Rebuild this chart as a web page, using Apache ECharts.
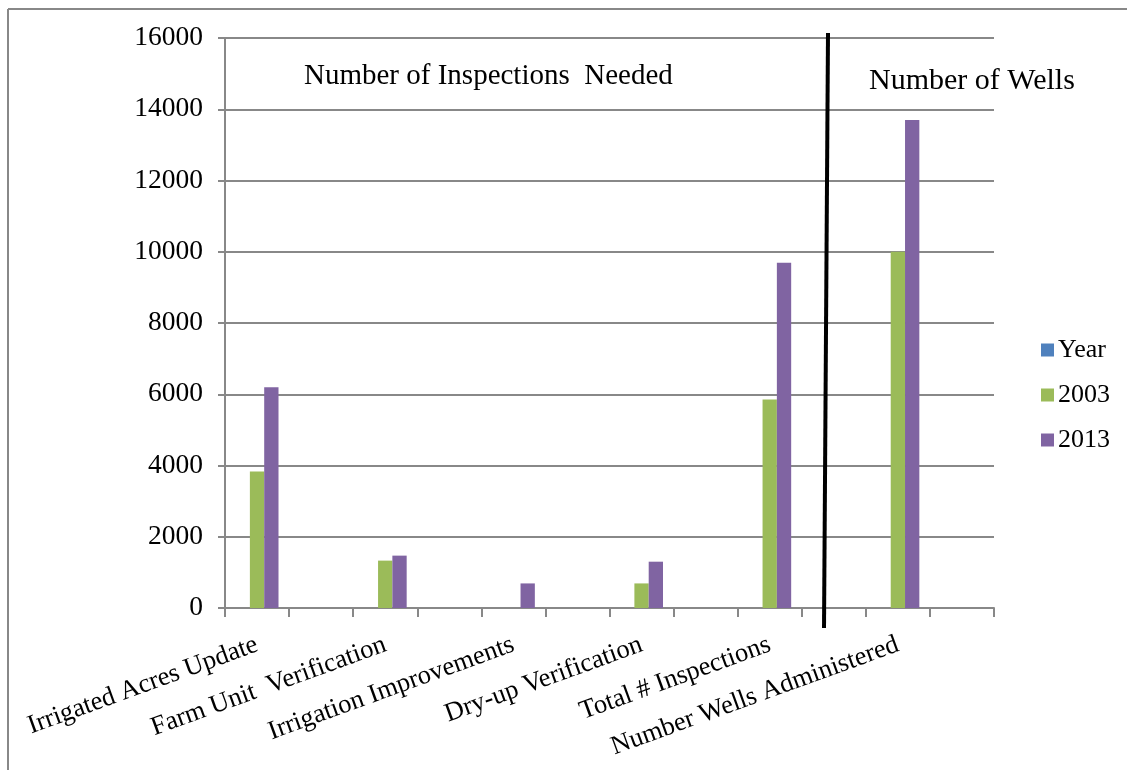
<!DOCTYPE html>
<html>
<head>
<meta charset="utf-8">
<script src="https://cdn.jsdelivr.net/npm/echarts@6/dist/echarts.min.js"></script>
<style>html,body{margin:0;padding:0;background:#fff;}#c{width:1127px;height:770px;}</style>
</head>
<body>
<div id="c"></div>
<script>
const categories = ["Irrigated Acres Update", "", "Farm Unit  Verification", "", "Irrigation Improvements", "", "Dry-up Verification", "", "Total # Inspections", "", "Number Wells Administered", ""];
const seriesNames = ["Year", "2003", "2013"];
const yearValues = [null, null, null, null, null, null, null, null, null, null, null, null];
const values2003 = [3830, null, 1330, null, null, null, 690, null, 5850, null, 10000, null];
const values2013 = [6200, null, 1470, null, 690, null, 1300, null, 9690, null, 13700, null];
const yTicks = [0, 2000, 4000, 6000, 8000, 10000, 12000, 14000, 16000];

const font = "'Liberation Serif', 'Times New Roman', serif";
const gray = '#888888';
const chart = echarts.init(document.getElementById('c'));
chart.setOption({
  animation: false,
  backgroundColor: '#fff',
  textStyle: { fontFamily: font, color: '#000' },
  grid: { left: 225, right: 133, top: 38, bottom: 162, containLabel: false },
  legend: {
    orient: 'vertical', left: 1036, top: 332,
    itemWidth: 13, itemHeight: 13, itemGap: 19,
    icon: 'rect',
    textStyle: { fontFamily: font, fontSize: 26, color: '#000', padding: [0, 0, 0, -1] },
    data: seriesNames
  },
  xAxis: {
    type: 'category', data: categories,
    axisLine: { lineStyle: { color: gray, width: 2 } },
    axisTick: { show: true, interval: 0, length: 9, lineStyle: { color: gray, width: 2 } },
    axisLabel: { interval: 1, rotate: 20, margin: 36, fontFamily: font, fontSize: 26.5, color: '#000', padding: [0, 0, 0, 0] }
  },
  yAxis: {
    type: 'value', min: yTicks[0], max: yTicks[yTicks.length - 1], interval: 2000,
    axisLine: { show: true, lineStyle: { color: gray, width: 2 } },
    axisTick: { show: true, length: 7, lineStyle: { color: gray, width: 2 } },
    splitLine: { lineStyle: { color: gray, width: 2 } },
    axisLabel: { margin: 22, fontFamily: font, fontSize: 27.5, color: '#000', formatter: function (v) { return String(v); } }
  },
  series: [
    { name: 'Year', type: 'bar', data: yearValues, barGap: '0%', barCategoryGap: '33%', itemStyle: { color: '#4F81BD' } },
    { name: '2003', type: 'bar', data: values2003, barGap: '0%', barCategoryGap: '33%', itemStyle: { color: '#9BBB59' } },
    { name: '2013', type: 'bar', data: values2013, barGap: '0%', barCategoryGap: '33%', itemStyle: { color: '#8064A2' } }
  ],
  graphic: [
    { type: 'line', shape: { x1: 8, y1: 9, x2: 1127, y2: 9 }, style: { stroke: gray, lineWidth: 2 } },
    { type: 'line', shape: { x1: 8, y1: 9, x2: 8, y2: 770 }, style: { stroke: gray, lineWidth: 2 } },
    { type: 'line', shape: { x1: 828, y1: 33, x2: 824, y2: 628 }, style: { stroke: '#000', lineWidth: 4 }, z: 100 },
    { type: 'text', left: 304, top: 62, style: { text: 'Number of Inspections  Needed', font: '29px ' + font, fill: '#000' } },
    { type: 'text', left: 869, top: 66, style: { text: 'Number of Wells', font: '30px ' + font, fill: '#000' } }
  ]
});
</script>
</body>
</html>
